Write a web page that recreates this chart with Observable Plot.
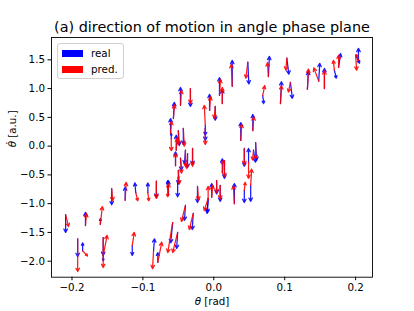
<!DOCTYPE html>
<html><head><meta charset="utf-8">
<script src="https://cdn.jsdelivr.net/npm/d3@7"></script>
<script src="https://cdn.jsdelivr.net/npm/@observablehq/plot@0.6"></script>
<style>
body{margin:0;background:#fff;font-family:"DejaVu Sans",sans-serif;}
#wrap{position:relative;width:414px;height:311px;}
.legend{position:absolute;left:57px;top:43px;width:67px;height:36px;box-sizing:border-box;border:1px solid #d0d0d0;border-radius:3px;background:rgba(255,255,255,0.85);font-size:10.3px;color:#000;}
.item{position:absolute;left:4px;height:13px;line-height:13px;}
.sw{display:inline-block;width:21px;height:7px;vertical-align:middle;margin-right:8px;position:relative;top:-1px;}
</style></head>
<body><div id="wrap"></div>
<script>
const titleText = "(a) direction of motion in angle phase plane";
const xLabel = "θ [rad]";
const yLabel = "θ̇ [a.u.]";
const seriesNames = ["real", "pred."];
const seriesColors = ["#0000ff", "#ff0000"];
const xTicks = [-0.2, -0.1, 0.0, 0.1, 0.2];
const yTicks = [-2.0, -1.5, -1.0, -0.5, 0.0, 0.5, 1.0, 1.5];

// arrow tails: angle θ [rad], angular velocity θ̇ [a.u.]
const theta = [0.026,0.048,0.077,0.103,0.094,0.108,0.132,0.148,0.156,0.170,0.176,0.200,0.204,
 -0.047,-0.033,-0.057,-0.006,0.002,0.008,0.012,-0.012,-0.012,0.069,
 -0.061,-0.060,-0.050,-0.043,-0.040,-0.053,-0.047,-0.037,-0.054,-0.050,-0.030,
 0.038,0.043,0.055,0.059,0.049,0.012,0.056,0.015,
 -0.144,-0.125,-0.110,-0.093,-0.081,-0.065,-0.051,-0.023,-0.003,0.004,-0.064,-0.008,0.009,0.029,0.043,0.052,
 -0.040,-0.029,-0.008,-0.058,-0.051,
 -0.209,-0.181,-0.160,-0.192,-0.185,-0.156,-0.156,-0.115,-0.085,-0.079];
const thetaDot = [1.04,1.46,1.21,1.53,0.74,1.11,0.99,1.13,1.00,1.32,1.37,1.58,1.49,
 0.71,1.00,0.48,0.62,0.69,0.88,0.74,0.36,0.31,0.88,
 0.22,0.13,0.27,0.31,-0.07,-0.07,-0.21,-0.13,-0.34,-0.42,-0.04,
 0.10,-0.04,0.27,0.06,-0.28,-0.46,-0.07,-0.25,
 -0.74,-0.94,-0.81,-0.81,-0.61,-0.74,-0.60,-0.70,-0.89,-0.60,-0.86,-0.94,-0.68,-1.00,-0.77,-0.68,
 -1.03,-1.17,-0.91,-1.33,-1.50,
 -1.19,-1.38,-1.36,-1.61,-1.82,-1.59,-1.90,-1.73,-1.82,-2.02];
// real direction (dθ in mrad, dθ̇ in a.u.)
const realU = [0,1.4,1.4,2.8,1.4,2.8,1.4,1.4,0,2.8,2.8,5.6,0,
 0,0,1.4,0,0,0,0,0,0,1.4,
 0,0,1.4,0,-1.4,0,1.4,0,0,0,0,
 0,0,0,1.4,0,0,2.8,0,
 0,0,-1.4,0,0,0,0,0,0,0,0,-1.4,0,0,0,0,
 -1.4,-1.4,-1.4,-2.8,-1.4,
 0,0,0,0,0,0,0,0,1.4,0];
const realV = [0.45,-0.38,0.35,-0.28,0.38,-0.28,0.31,0.31,0.35,-0.14,0.24,-0.14,0.21,
 0.31,-0.31,0.28,0.28,-0.24,0.31,0.24,-0.17,-0.21,-0.14,
 0.26,0.09,-0.26,-0.28,-0.24,0.26,-0.21,-0.24,0.24,-0.24,-0.28,
 0.31,-0.31,0.28,-0.31,0.24,0.24,-0.21,-0.31,
 -0.28,0.23,0.17,0.17,-0.28,0.14,-0.28,-0.28,0.24,-0.23,0.26,-0.23,-0.28,0.35,-0.21,-0.28,
 -0.26,-0.28,-0.24,-0.35,-0.28,
 -0.31,0.23,0.10,-0.31,0.14,-0.31,-0.09,-0.17,0.21,0.17];
// predicted direction
const predU = [-1.4,-2.8,-1.4,-1.4,1.4,-2.8,1.4,-7,0,-1.4,0,1.4,-2.8,
 1.4,0,1.4,1.4,-1.4,1.4,0,-1.4,0,2.8,
 1.4,0,0,1.4,0,1.4,1.4,-1.4,0,1.4,0,
 1.4,0,1.4,0,0,1.4,-1.4,0,
 1.4,1.4,2.8,1.4,0,0,1.4,1.4,1.4,0,0,0,0,-1.4,1.4,1.4,
 -5.6,-5.6,-5.6,-7,-7,
 4.2,1.4,2.8,0,7,0,5.6,2.8,-1.4,5.6];
const predV = [0.38,-0.28,0.24,-0.21,0.31,-0.17,0.35,0.23,0.31,0.17,0.21,-0.26,0.10,
 0.26,-0.26,0.24,0.24,-0.21,0.28,0.28,0.35,-0.28,0.17,
 0.21,-0.21,-0.24,-0.31,-0.28,0.21,-0.26,-0.26,0.21,-0.24,-0.31,
 0.28,-0.28,0.24,-0.28,-0.28,0.21,-0.17,-0.28,
 -0.21,0.31,-0.14,-0.14,-0.30,-0.14,0.07,-0.24,0.21,-0.21,0.21,0.24,-0.24,0.31,0.14,0.28,
 -0.28,-0.28,-0.21,-0.52,-0.35,
 -0.21,0.21,0.31,-0.57,-0.09,-0.52,0.35,0.23,-0.31,0.35];

const rows = theta.map((t, i) => ({t, td: thetaDot[i], ru: realU[i], rv: realV[i], pu: predU[i], pv: predV[i]}));

const arrowOpts = {strokeWidth: 1.25, headLength: 4.5, headAngle: 55, strokeOpacity: 0.9};
const fmt = d3.format(".1f");

const chart = Plot.plot({
  width: 414, height: 311,
  marginLeft: 51, marginRight: 42, marginTop: 37, marginBottom: 34.3,
  x: {domain: [-0.2289, 0.2238]},
  y: {domain: [-2.278, 1.888]},
  style: {fontFamily: "DejaVu Sans", fontSize: "10.3px", color: "black", background: "white"},
  marks: [
    Plot.arrow(rows, {x1: "t", y1: "td", x2: d => d.t + d.ru / 1000, y2: d => d.td + d.rv, stroke: seriesColors[0], ...arrowOpts}),
    Plot.arrow(rows, {x1: "t", y1: "td", x2: d => d.t + d.pu / 1000, y2: d => d.td + d.pv, stroke: seriesColors[1], ...arrowOpts}),
    Plot.frame({stroke: "black", strokeWidth: 0.9}),
    Plot.axisX({ticks: xTicks, tickFormat: fmt, tickSize: 3.5, tickPadding: 3, label: null, fontSize: 10.3}),
    Plot.axisY({ticks: yTicks, tickFormat: fmt, tickSize: 3.5, tickPadding: 3, label: null, fontSize: 10.3}),
    Plot.text([titleText], {frameAnchor: "top", dy: -10, lineAnchor: "middle", fontSize: 14.4}),
    Plot.text([xLabel], {frameAnchor: "bottom", dy: 25, lineAnchor: "middle", fontSize: 10.3}),
    Plot.text([yLabel], {frameAnchor: "left", dx: -39, dy: -10, lineAnchor: "middle", rotate: -90, fontSize: 10.3})
  ]
});
// italic theta symbols as in math text
d3.select(chart).selectAll("text").each(function() {
  const t = this.textContent;
  if (t === xLabel || t === yLabel) {
    const sym = t === xLabel ? "θ" : "θ̇";
    const rest = t.slice(sym.length);
    const el = d3.select(this);
    const tgt = el.select("tspan").empty() ? el : el.select("tspan");
    tgt.text(null);
    tgt.append("tspan").attr("font-style", "italic").text(sym);
    tgt.append("tspan").text(rest);
  }
});
const wrap = document.getElementById("wrap");
wrap.appendChild(chart);
const leg = document.createElement("div");
leg.className = "legend";
seriesNames.forEach((n, i) => {
  const it = document.createElement("div");
  it.className = "item";
  it.style.top = (3 + i * 16) + "px";
  it.innerHTML = `<span class="sw" style="background:${seriesColors[i]}"></span>${n}`;
  leg.appendChild(it);
});
wrap.appendChild(leg);
</script>
</body></html>
